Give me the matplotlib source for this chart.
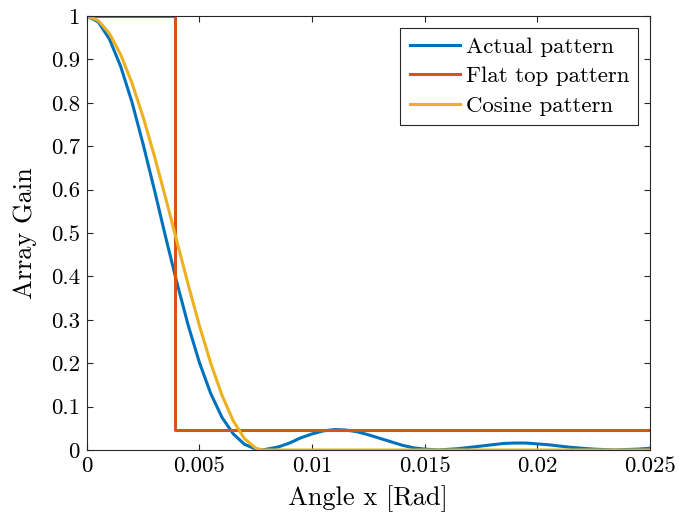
import matplotlib
matplotlib.use('Agg')
import matplotlib.pyplot as plt
from matplotlib.ticker import FuncFormatter

plt.rcParams['font.family'] = 'serif'
plt.rcParams['font.serif'] = ['cmr10', 'DejaVu Serif']
plt.rcParams['axes.unicode_minus'] = False
plt.rcParams['axes.formatter.use_mathtext'] = True
plt.rcParams['mathtext.fontset'] = 'cm'

# values
angle_actual = [0, 0.0005, 0.001, 0.0015, 0.002, 0.0025, 0.003, 0.0035, 0.004,
                0.0045, 0.005, 0.0055, 0.006, 0.0065, 0.007, 0.0075, 0.0078,
                0.0085, 0.009, 0.0095, 0.010, 0.0105, 0.011, 0.0115, 0.012,
                0.0125, 0.013, 0.0135, 0.014, 0.0145, 0.015, 0.0156, 0.0165,
                0.0175, 0.0185, 0.019, 0.0195, 0.0205, 0.0215, 0.0225, 0.0234,
                0.0245, 0.025]
gain_actual = [1.0, 0.987, 0.947, 0.884, 0.802, 0.704, 0.599, 0.490, 0.385,
               0.287, 0.201, 0.130, 0.075, 0.037, 0.013, 0.002, 0.0,
               0.007, 0.016, 0.028, 0.037, 0.044, 0.047, 0.046, 0.042,
               0.035, 0.027, 0.019, 0.011, 0.005, 0.002, 0.0, 0.003,
               0.009, 0.015, 0.016, 0.016, 0.012, 0.006, 0.002, 0.0,
               0.002, 0.004]

angle_flat = [0, 0.0039, 0.0039, 0.025]
gain_flat = [1.0, 1.0, 0.045, 0.045]

angle_cos = [0, 0.0005, 0.001, 0.0015, 0.002, 0.0025, 0.003, 0.0035, 0.004,
             0.0045, 0.005, 0.0055, 0.006, 0.0065, 0.007, 0.0075, 0.0078, 0.025]
gain_cos = [1.0, 0.990, 0.960, 0.911, 0.846, 0.767, 0.677, 0.580, 0.48,
            0.381, 0.286, 0.200, 0.126, 0.067, 0.026, 0.004, 0.0, 0.0]

x_ticks = [0, 0.005, 0.01, 0.015, 0.02, 0.025]
y_ticks = [0, 0.1, 0.2, 0.3, 0.4, 0.5, 0.6, 0.7, 0.8, 0.9, 1]

fig = plt.figure(figsize=(6.79, 5.19), dpi=100)
ax = fig.add_axes([0.128, 0.133, 0.829, 0.836])

ax.plot(angle_actual, gain_actual, color='#0072BD', lw=2.2, label='Actual pattern')
ax.plot(angle_flat, gain_flat, color='#D95319', lw=2.2, label='Flat top pattern')
ax.plot(angle_cos, gain_cos, color='#EDB120', lw=2.2, label='Cosine pattern')

ax.set_xlim(0, 0.025)
ax.set_ylim(0, 1)
ax.set_xticks(x_ticks)
ax.set_yticks(y_ticks)
ax.xaxis.set_major_formatter(FuncFormatter(lambda v, p: '%g' % v))
ax.yaxis.set_major_formatter(FuncFormatter(lambda v, p: '%g' % v))
ax.tick_params(direction='in', top=True, right=True, length=4, width=0.8,
               color='#262626', labelsize=16.5, pad=5)
for s in ax.spines.values():
    s.set_color('#262626')
    s.set_linewidth(0.8)

ax.set_xlabel('Angle x [Rad]', fontsize=19, labelpad=6)
ax.set_ylabel('Array Gain', fontsize=19, labelpad=10)

leg = ax.legend(loc='upper right', fontsize=16.5, fancybox=False, framealpha=1,
                edgecolor='#262626', handlelength=2.2, borderpad=0.4,
                labelspacing=0.42, handletextpad=0.25, borderaxespad=0.5)
leg.get_frame().set_linewidth(0.8)

fig.savefig('out.png', dpi=100)
